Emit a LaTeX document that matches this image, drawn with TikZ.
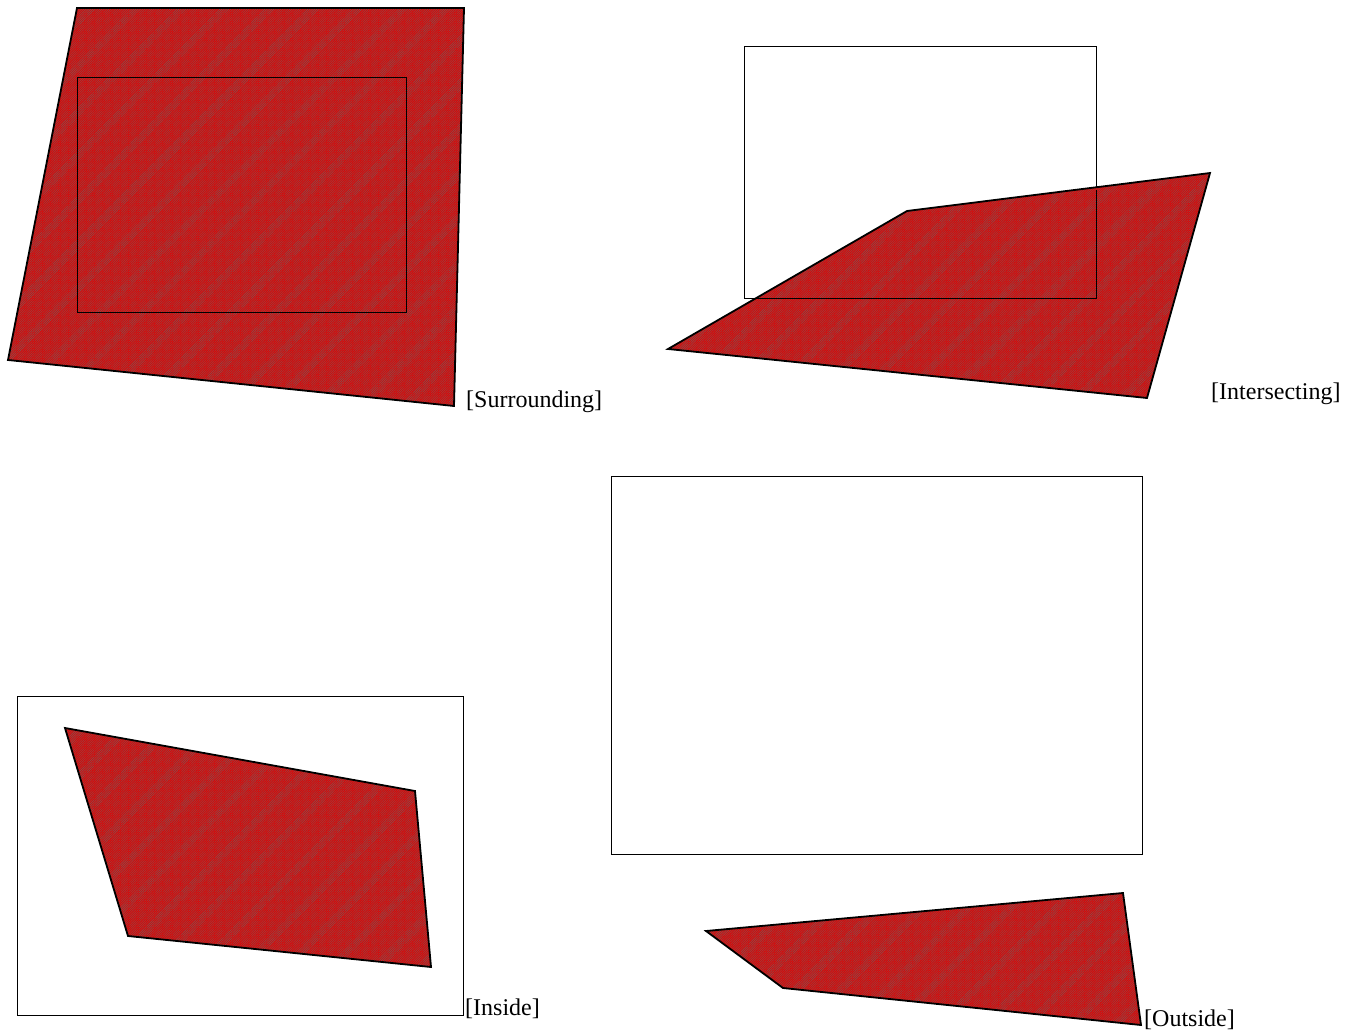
\documentclass[tikz,border=0pt]{standalone}
\usepackage{fontspec}
\setmainfont{Liberation Serif}
\usepackage{tikz}
\usetikzlibrary{patterns.meta}
\tikzset{
  region/.style={draw=black, line width=1.8pt, line join=miter, preaction={fill=red!90!black},
    pattern={Lines[angle=45, distance=1.6pt, line width=0.4pt]}, pattern color=black!60},
  window/.style={draw=black, line width=1pt},
  tag/.style={anchor=base west, inner sep=1pt, font=\fontsize{24}{28}\selectfont}
}
\begin{document}
\begin{tikzpicture}[x=1pt, y=-1pt]
    \useasboundingbox (0,0) rectangle (1351,1032);

    % Surrounding
    \draw [region] (77,8) -- (464,8) -- (454,406) -- (8,360) -- cycle;
    \draw [window] (77,78) rectangle (406,312);
    \node (surr) [tag] at (465,407) {[Surrounding]};

    % Intersecting
    \draw [window] (744,47) rectangle (1096,298);
    \draw [region] (668,349) -- (907,211) -- (1210,173) -- (1147,398) -- cycle;
    \draw [window] (744,298) -- (1096,298) -- (1096,190);
    \node (inter) [tag] at (1210,399) {[Intersecting]};

    % Inside
    \draw [window] (17,696) rectangle (463,1015);
    \draw [region] (65,728) -- (415,791) -- (431,967) -- (128,936) -- cycle;
    \node (ins) [tag] at (464,1015) {[Inside]};

    % Outside
    \draw [window] (611,476) rectangle (1142,854);
    \draw [region] (706,931) -- (1123,893) -- (1141,1025) -- (783,988) -- cycle;
    \node (outs) [tag] at (1143,1026) {[Outside]};

\end{tikzpicture}
\end{document}
